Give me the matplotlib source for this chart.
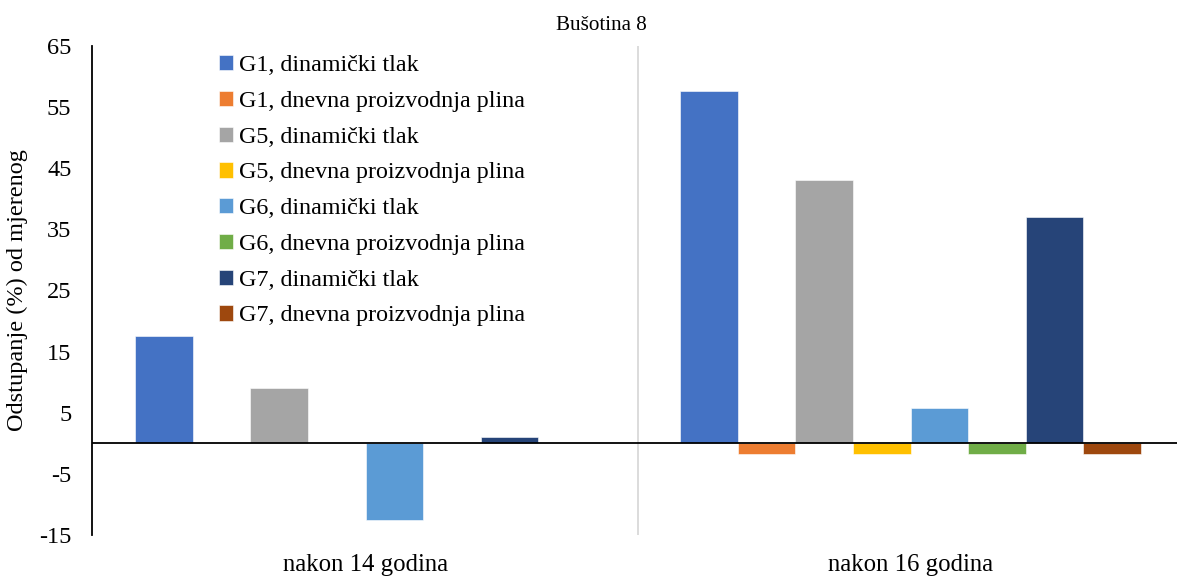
import matplotlib.pyplot as plt
import numpy as np

plt.rcParams["font.family"] = ["Liberation Serif", "DejaVu Serif"]

categories = ["nakon 14 godina", "nakon 16 godina"]
series = [
    "G1, dinamički tlak",
    "G1, dnevna proizvodnja plina",
    "G5, dinamički tlak",
    "G5, dnevna proizvodnja plina",
    "G6, dinamički tlak",
    "G6, dnevna proizvodnja plina",
    "G7, dinamički tlak",
    "G7, dnevna proizvodnja plina",
]
# one list per category, order as in series
values_14 = [17.6, 0.0, 9.1, 0.0, -12.6, 0.0, 1.0, 0.0]
values_16 = [57.6, -1.7, 43.0, -1.7, 5.7, -1.7, 37.0, -1.7]
colors = ["#4472C4", "#ED7D31", "#A5A5A5", "#FFC000",
          "#5B9BD5", "#70AD47", "#264478", "#9E480E"]
yticks = [-15, -5, 5, 15, 25, 35, 45, 55, 65]

fig = plt.figure(figsize=(11.77, 5.78), dpi=100)
ax = fig.add_axes([92.3 / 1177, 1 - 535 / 578, 1 - 92.3 / 1177, (535 - 45.7) / 578])

x = np.arange(len(categories))
n = len(series)
group_w = 0.845
bw = group_w / n
vals = np.array([values_14, values_16])
for i, name in enumerate(series):
    off = -group_w / 2 + bw * (i + 0.5)
    ax.bar(x + off, vals[:, i], width=bw, color=colors[i], label=name,
           edgecolor="white", linewidth=0.4, zorder=2)

ax.axhline(0, color="black", linewidth=1.3, zorder=3)
ax.axvline(0.5, color="#D9D9D9", linewidth=1.3, zorder=1)

ax.set_xlim(-0.5015, 1.489)
ax.set_ylim(-15, 65)
ax.set_yticks(yticks)
ax.set_yticklabels([str(t) for t in yticks], fontsize=17.5)
ax.set_xticks(x)
ax.set_xticklabels(categories, fontsize=17.8)
ax.tick_params(axis="y", length=0, pad=15)
ax.tick_params(axis="x", length=0, pad=14)

for s in ["top", "right", "bottom"]:
    ax.spines[s].set_visible(False)
ax.spines["left"].set_linewidth(1.3)

ax.set_ylabel("Odstupanje (%) od mjerenog", fontsize=17.5, labelpad=8)

fig.text(601 / 1177, 1 - 25 / 578, "Bušotina 8", fontsize=15.2,
         ha="center", va="center")

ax.legend(loc="upper left", bbox_to_anchor=(219 / 1177, 1 - 55 / 578),
          bbox_transform=fig.transFigure, frameon=False, fontsize=17.3,
          handlelength=0.6, handleheight=0.6, handletextpad=0.25,
          labelspacing=0.61, borderpad=0, borderaxespad=0)

fig.savefig("out.png", dpi=100)
